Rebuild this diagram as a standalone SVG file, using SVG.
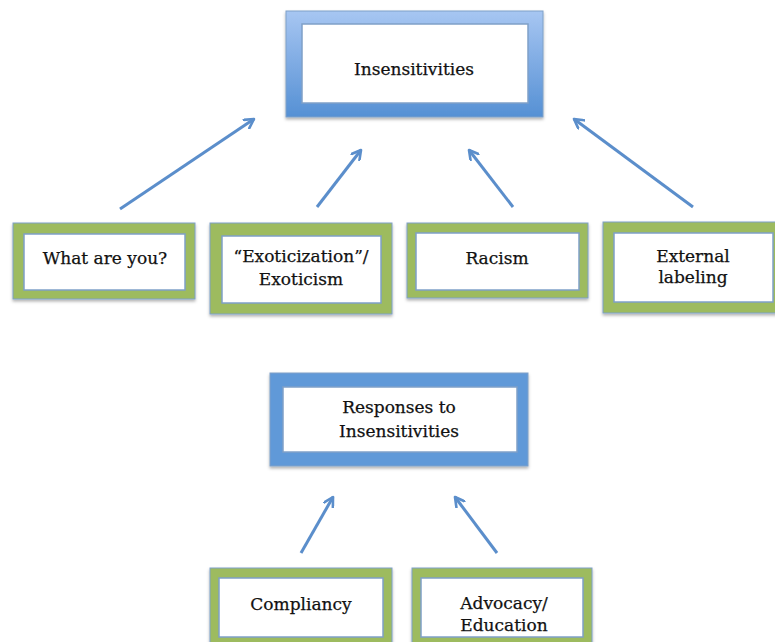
<svg xmlns="http://www.w3.org/2000/svg" width="775" height="642" viewBox="0 0 775 642">
<defs>
<linearGradient id="blueGrad" x1="0" y1="0" x2="0" y2="1">
<stop offset="0" stop-color="#a7c6f2"/>
<stop offset="1" stop-color="#5590d4"/>
</linearGradient>
<filter id="sh" x="-10%" y="-10%" width="120%" height="130%">
<feDropShadow dx="0" dy="2" stdDeviation="1.5" flood-color="#000" flood-opacity="0.3"/>
</filter>
<marker id="chev" viewBox="0 0 12 12" refX="10" refY="6" markerWidth="12" markerHeight="12" markerUnits="userSpaceOnUse" orient="auto">
<path d="M1,1 L10,6 L1,11" fill="none" stroke="#5b8ecb" stroke-width="2.6" stroke-linecap="round" stroke-linejoin="round"/>
</marker>
</defs>
<style>
.outerG{fill:#9dbb5f;stroke:#7fa0c8;stroke-width:1;filter:url(#sh)}
.outerB{stroke:#7fa0c8;stroke-width:1;filter:url(#sh)}
.inner{fill:#fff;stroke:#7fa0c8;stroke-width:1.5}
.t{font-family:"DejaVu Serif","Liberation Serif",serif;font-size:17px;fill:#111;stroke:#111;stroke-width:0.25;text-anchor:middle}
.arr{stroke:#5b8ecb;stroke-width:3;fill:none;marker-end:url(#chev)}
</style>
<rect width="775" height="642" fill="#fff"/>
<g id="insensitivities">
<rect class="outerB" x="286" y="11" width="257" height="106" fill="url(#blueGrad)"/>
<rect class="inner" x="302" y="24" width="226" height="79"/>
<text class="t" x="414" y="75">Insensitivities</text>
</g>
<g id="what-are-you">
<rect class="outerG" x="13" y="223" width="182" height="76"/>
<rect class="inner" x="24" y="234" width="161" height="56"/>
<text class="t" x="105" y="264">What are you?</text>
</g>
<g id="exoticization">
<rect class="outerG" x="210" y="223" width="182" height="91"/>
<rect class="inner" x="222" y="236" width="159" height="67"/>
<text class="t" x="301" y="262">“Exoticization”/</text>
<text class="t" x="301" y="285">Exoticism</text>
</g>
<g id="racism">
<rect class="outerG" x="407" y="223" width="181" height="75"/>
<rect class="inner" x="416" y="233" width="163" height="57"/>
<text class="t" x="497" y="264">Racism</text>
</g>
<g id="external-labeling">
<rect class="outerG" x="603" y="222" width="185" height="91"/>
<rect class="inner" x="614" y="233" width="159" height="69"/>
<text class="t" x="693" y="262">External</text>
<text class="t" x="693" y="283">labeling</text>
</g>
<g id="responses">
<rect class="outerB" x="270" y="373" width="258" height="93" fill="#6199d8"/>
<rect class="inner" x="283" y="387" width="234" height="65"/>
<text class="t" x="399" y="413">Responses to</text>
<text class="t" x="399" y="437">Insensitivities</text>
</g>
<g id="compliancy">
<rect class="outerG" x="210" y="568" width="182" height="90"/>
<rect class="inner" x="219" y="578" width="164" height="59"/>
<text class="t" x="301" y="610">Compliancy</text>
</g>
<g id="advocacy">
<rect class="outerG" x="412" y="568" width="180" height="90"/>
<rect class="inner" x="421" y="578" width="162" height="59"/>
<text class="t" x="504" y="609">Advocacy/</text>
<text class="t" x="504" y="631">Education</text>
</g>
<g id="connectors">
<line class="arr" x1="120" y1="209" x2="254" y2="119"/>
<line class="arr" x1="317" y1="207" x2="361" y2="150"/>
<line class="arr" x1="513" y1="207" x2="469" y2="150"/>
<line class="arr" x1="693" y1="207" x2="574" y2="119"/>
<line class="arr" x1="301" y1="553" x2="333" y2="497"/>
<line class="arr" x1="497" y1="553" x2="455" y2="497"/>
</g>
</svg>
